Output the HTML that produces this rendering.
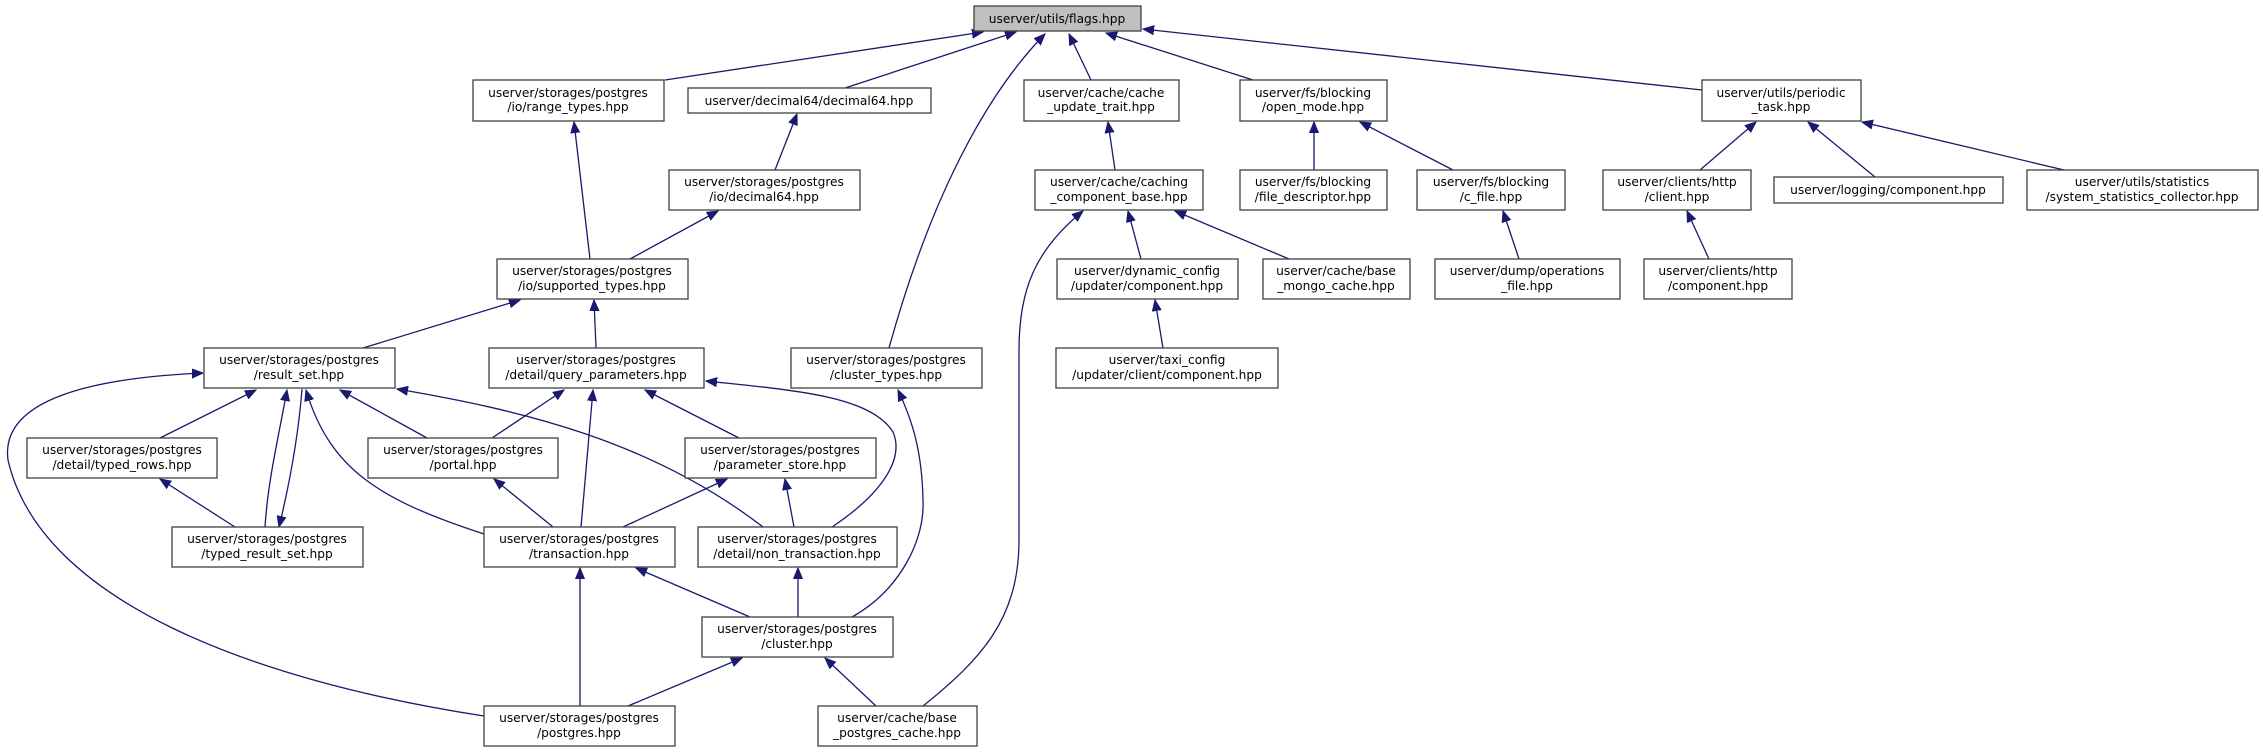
<!DOCTYPE html>
<html><head><meta charset="utf-8"><style>html,body{margin:0;padding:0;background:#fff}svg{display:block}</style></head>
<body>
<svg width="2263" height="752" viewBox="0 0 2263 752" xmlns="http://www.w3.org/2000/svg" font-family="'DejaVu Sans','Liberation Sans',sans-serif" font-size="12.2">
<defs>
<marker id="a" markerWidth="12" markerHeight="10" refX="11" refY="5" orient="auto" markerUnits="userSpaceOnUse">
<path d="M0,0.5 L11,5 L0,9.5 Z" fill="#191970" stroke="#191970"/>
</marker>
</defs>
<g fill="none" stroke="#191970" stroke-width="1.3" marker-end="url(#a)">
<path d="M665,80 L983,32"/>
<path d="M845,88 L1016,32"/>
<path d="M889,348 C930,200 985,95 1045,34"/>
<path d="M1091,80 L1069,34"/>
<path d="M1253,80 L1106,33"/>
<path d="M1702,90 L1143,29"/>
<path d="M775,170 L797,114"/>
<path d="M590,259 L574,122"/>
<path d="M630,259 L718,211"/>
<path d="M363,348 L520,300"/>
<path d="M596,348 L594,300"/>
<path d="M160,438 L256,390"/>
<path d="M265,527 C268,480 278,440 287,390"/>
<path d="M302,389 C298,440 288,490 279,527"/>
<path d="M484,534 C380,500 330,470 306,390"/>
<path d="M427,438 L340,390"/>
<path d="M763,527 C650,440 520,410 397,389"/>
<path d="M484,716 C250,680 40,600 8,460 C0,400 90,378 203,373"/>
<path d="M492,438 L564,390"/>
<path d="M581,527 L593,390"/>
<path d="M739,438 L645,390"/>
<path d="M832,527 C880,495 905,460 893,432 C870,395 790,390 706,381"/>
<path d="M623,527 L727,479"/>
<path d="M553,527 L494,479"/>
<path d="M235,527 L160,479"/>
<path d="M794,527 L785,479"/>
<path d="M750,617 L636,568"/>
<path d="M798,617 L798,568"/>
<path d="M852,617 C900,590 925,540 923,500 C922,450 912,420 898,390"/>
<path d="M580,706 L580,568"/>
<path d="M628,706 L742,658"/>
<path d="M876,706 L825,658"/>
<path d="M923,706 C980,660 1019,620 1019,540 L1019,350 C1019,290 1035,250 1083,211"/>
<path d="M1115,170 L1108,122"/>
<path d="M1141,259 L1128,211"/>
<path d="M1289,259 L1175,211"/>
<path d="M1163,348 L1155,300"/>
<path d="M1314,170 L1314,122"/>
<path d="M1453,170 L1360,122"/>
<path d="M1519,259 L1503,211"/>
<path d="M1700,170 L1756,122"/>
<path d="M1875,177 L1808,122"/>
<path d="M2064,170 L1862,122"/>
<path d="M1709,259 L1687,211"/>
</g>
<g stroke="#404040" stroke-width="1.3" fill="#fff">
<rect x="974" y="6" width="167" height="25" fill="#bfbfbf"/>
<rect x="473" y="80" width="191" height="41"/>
<rect x="688" y="88" width="243" height="25"/>
<rect x="1024" y="80" width="155" height="41"/>
<rect x="1240" y="80" width="147" height="41"/>
<rect x="1702" y="80" width="159" height="41"/>
<rect x="669" y="170" width="191" height="40"/>
<rect x="1035" y="170" width="168" height="40"/>
<rect x="1240" y="170" width="147" height="40"/>
<rect x="1417" y="170" width="148" height="40"/>
<rect x="1603" y="170" width="148" height="40"/>
<rect x="1774" y="177" width="229" height="26"/>
<rect x="2027" y="170" width="231" height="40"/>
<rect x="497" y="259" width="191" height="40"/>
<rect x="1057" y="259" width="181" height="40"/>
<rect x="1263" y="259" width="147" height="40"/>
<rect x="1435" y="259" width="185" height="40"/>
<rect x="1644" y="259" width="148" height="40"/>
<rect x="204" y="348" width="191" height="40"/>
<rect x="489" y="348" width="215" height="40"/>
<rect x="791" y="348" width="191" height="40"/>
<rect x="1056" y="348" width="222" height="40"/>
<rect x="27" y="438" width="190" height="40"/>
<rect x="368" y="438" width="190" height="40"/>
<rect x="685" y="438" width="191" height="40"/>
<rect x="172" y="527" width="191" height="40"/>
<rect x="484" y="527" width="191" height="40"/>
<rect x="698" y="527" width="199" height="40"/>
<rect x="702" y="617" width="191" height="40"/>
<rect x="484" y="706" width="191" height="40"/>
<rect x="818" y="706" width="159" height="40"/>
</g>
<g fill="#000" text-anchor="middle">
<text x="1057" y="23">userver/utils/flags.hpp</text>
<text x="568" y="97">userver/storages/postgres</text><text x="568" y="111">/io/range_types.hpp</text>
<text x="809" y="105">userver/decimal64/decimal64.hpp</text>
<text x="1101" y="97">userver/cache/cache</text><text x="1101" y="111">_update_trait.hpp</text>
<text x="1313" y="97">userver/fs/blocking</text><text x="1313" y="111">/open_mode.hpp</text>
<text x="1781" y="97">userver/utils/periodic</text><text x="1781" y="111">_task.hpp</text>
<text x="764" y="186">userver/storages/postgres</text><text x="764" y="201">/io/decimal64.hpp</text>
<text x="1119" y="186">userver/cache/caching</text><text x="1119" y="201">_component_base.hpp</text>
<text x="1313" y="186">userver/fs/blocking</text><text x="1313" y="201">/file_descriptor.hpp</text>
<text x="1491" y="186">userver/fs/blocking</text><text x="1491" y="201">/c_file.hpp</text>
<text x="1677" y="186">userver/clients/http</text><text x="1677" y="201">/client.hpp</text>
<text x="1888" y="194">userver/logging/component.hpp</text>
<text x="2142" y="186">userver/utils/statistics</text><text x="2142" y="201">/system_statistics_collector.hpp</text>
<text x="592" y="275">userver/storages/postgres</text><text x="592" y="290">/io/supported_types.hpp</text>
<text x="1147" y="275">userver/dynamic_config</text><text x="1147" y="290">/updater/component.hpp</text>
<text x="1336" y="275">userver/cache/base</text><text x="1336" y="290">_mongo_cache.hpp</text>
<text x="1527" y="275">userver/dump/operations</text><text x="1527" y="290">_file.hpp</text>
<text x="1718" y="275">userver/clients/http</text><text x="1718" y="290">/component.hpp</text>
<text x="299" y="364">userver/storages/postgres</text><text x="299" y="379">/result_set.hpp</text>
<text x="596" y="364">userver/storages/postgres</text><text x="596" y="379">/detail/query_parameters.hpp</text>
<text x="886" y="364">userver/storages/postgres</text><text x="886" y="379">/cluster_types.hpp</text>
<text x="1167" y="364">userver/taxi_config</text><text x="1167" y="379">/updater/client/component.hpp</text>
<text x="122" y="454">userver/storages/postgres</text><text x="122" y="469">/detail/typed_rows.hpp</text>
<text x="463" y="454">userver/storages/postgres</text><text x="463" y="469">/portal.hpp</text>
<text x="780" y="454">userver/storages/postgres</text><text x="780" y="469">/parameter_store.hpp</text>
<text x="267" y="543">userver/storages/postgres</text><text x="267" y="558">/typed_result_set.hpp</text>
<text x="579" y="543">userver/storages/postgres</text><text x="579" y="558">/transaction.hpp</text>
<text x="797" y="543">userver/storages/postgres</text><text x="797" y="558">/detail/non_transaction.hpp</text>
<text x="797" y="633">userver/storages/postgres</text><text x="797" y="648">/cluster.hpp</text>
<text x="579" y="722">userver/storages/postgres</text><text x="579" y="737">/postgres.hpp</text>
<text x="897" y="722">userver/cache/base</text><text x="897" y="737">_postgres_cache.hpp</text>
</g>
</svg>
</body></html>
